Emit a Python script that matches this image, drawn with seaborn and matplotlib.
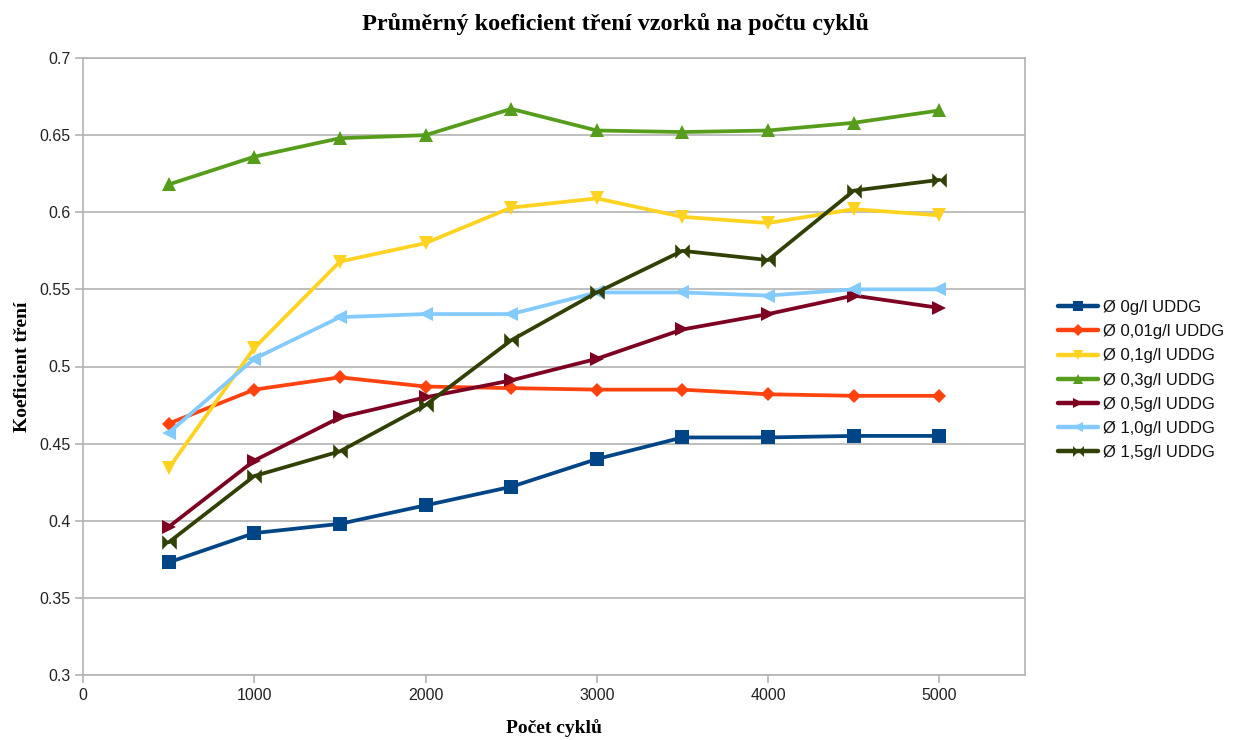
import numpy as np
import pandas as pd
import matplotlib
matplotlib.use("Agg")
import matplotlib.pyplot as plt
from matplotlib.path import Path
from matplotlib.ticker import FuncFormatter, MultipleLocator
import seaborn as sns

# Number of cycles
cycles = [500, 1000, 1500, 2000, 2500, 3000, 3500, 4000, 4500, 5000]

# Average friction coefficient per UDDG concentration
c_0 = [0.373, 0.392, 0.398, 0.410, 0.422, 0.440, 0.454, 0.454, 0.455, 0.455]
c_001 = [0.463, 0.485, 0.493, 0.487, 0.486, 0.485, 0.485, 0.482, 0.481, 0.481]
c_01 = [0.434, 0.512, 0.568, 0.580, 0.603, 0.609, 0.597, 0.593, 0.602, 0.598]
c_03 = [0.618, 0.636, 0.648, 0.650, 0.667, 0.653, 0.652, 0.653, 0.658, 0.666]
c_05 = [0.396, 0.439, 0.467, 0.480, 0.491, 0.505, 0.524, 0.534, 0.546, 0.538]
c_10 = [0.457, 0.505, 0.532, 0.534, 0.534, 0.548, 0.548, 0.546, 0.550, 0.550]
c_15 = [0.386, 0.429, 0.445, 0.475, 0.517, 0.548, 0.575, 0.569, 0.614, 0.621]

series_names = ["Ø 0g/l UDDG", "Ø 0,01g/l UDDG", "Ø 0,1g/l UDDG", "Ø 0,3g/l UDDG",
                "Ø 0,5g/l UDDG", "Ø 1,0g/l UDDG", "Ø 1,5g/l UDDG"]
series_values = [c_0, c_001, c_01, c_03, c_05, c_10, c_15]

colors = ["#004586", "#ff420e", "#ffd320", "#579d1c", "#7e0021", "#83caff", "#314004"]

# bow-tie marker: two triangles pointing at the centre
bowtie = Path(
    [(-1, 1), (-1, -1), (0, 0), (-1, 1), (1, 1), (1, -1), (0, 0), (1, 1)],
    [Path.MOVETO, Path.LINETO, Path.LINETO, Path.CLOSEPOLY,
     Path.MOVETO, Path.LINETO, Path.LINETO, Path.CLOSEPOLY],
)
marker_list = ["s", "D", "v", "^", ">", "<", bowtie]
marker_sizes = [10.5, 7.5, 10.5, 10.5, 10.5, 10.5, 10.5]

df = pd.DataFrame({
    "cycles": np.tile(cycles, len(series_names)),
    "value": np.concatenate(series_values),
    "series": np.repeat(series_names, len(cycles)),
})

sns.set_theme(style="white")
plt.rcParams["font.family"] = ["Liberation Sans", "DejaVu Sans"]
plt.rcParams["text.color"] = "#000000"

fig = plt.figure(figsize=(12.39, 7.40), dpi=100)
ax = fig.add_axes([83 / 1239, 1 - 675 / 740, (1025 - 83) / 1239, (675 - 58) / 740])

for name, col, mk, ms in zip(series_names, colors, marker_list, marker_sizes):
    sub = df[df["series"] == name]
    sns.lineplot(data=sub, x="cycles", y="value", ax=ax, color=col, marker=mk,
                 markersize=ms, markeredgewidth=0, linewidth=2.7, label=name,
                 legend=False)

ax.set_xlim(0, 5500)
ax.set_ylim(0.3, 0.7)
ax.set_xticks([0, 1000, 2000, 3000, 4000, 5000])
ax.yaxis.set_major_locator(MultipleLocator(0.05))
ax.yaxis.set_major_formatter(FuncFormatter(lambda v, p: f"{v:g}"))

grid_col = "#b3b3b3"
ax.grid(axis="y", color=grid_col, linewidth=1.2)
ax.grid(axis="x", visible=False)
for sp in ax.spines.values():
    sp.set_color(grid_col)
    sp.set_linewidth(1.2)
    sp.set_visible(True)
ax.tick_params(axis="both", which="major", direction="out", length=6, width=1.2,
               color=grid_col, labelsize=11.5, labelcolor="#222222", pad=3,
               bottom=True, left=True)

serif_bold = dict(family=["Liberation Serif", "DejaVu Serif"], weight="bold",
                  color="#000000")
ax.set_xlabel("Počet cyklů", fontsize=14, labelpad=12, **serif_bold)
ax.set_ylabel("Koeficient tření", fontsize=14, labelpad=6, **serif_bold)
fig.suptitle("Průměrný koeficient tření vzorků na počtu cyklů", x=0.497, y=0.983,
             fontsize=17.5, **serif_bold)

handles = []
for col, mk, ms in zip(colors, marker_list, marker_sizes):
    h, = ax.plot([], [], color=col, marker=mk, markersize=ms * 0.75,
                 markeredgewidth=0, linewidth=3.2)
    handles.append(h)
fig.legend(handles, series_names, loc="center left",
           bbox_to_anchor=(1043 / 1239, 1 - 380 / 740), frameon=False,
           fontsize=12, handlelength=2.4, handletextpad=0.3, labelspacing=0.55,
           numpoints=1, labelcolor="#111111")

fig.savefig("out.png", dpi=100)
